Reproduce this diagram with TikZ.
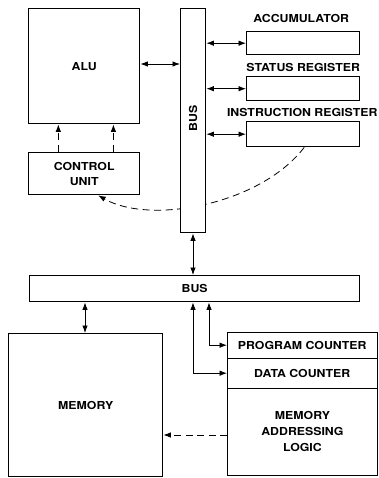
\documentclass[tikz,border=0pt]{standalone}
\usepackage{fontspec}
\setmainfont{TeX Gyre Heros}[FakeStretch=1.12]
\usetikzlibrary{arrows.meta,calc}

\begin{document}
\begin{tikzpicture}[x=1pt,y=-1pt,
  font=\bfseries\fontsize{11}{15}\selectfont,
  box/.style={draw,line width=1.4pt,anchor=north west,inner sep=0pt,align=center,fill=white},
  cell/.style={anchor=north west,inner sep=0pt,align=center},
  dbl/.style={line width=0.8pt,{Latex[length=7.5pt,width=5.5pt]}-{Latex[length=7.5pt,width=5.5pt]}},
  ctl/.style={line width=0.8pt,dash pattern=on 7pt off 4.5pt,-{Latex[length=7.5pt,width=5.5pt]}},
  caption/.style={anchor=base}
]
\useasboundingbox (0,0) rectangle (379,478);

% processor blocks
\node[box,minimum width=111pt,minimum height=115pt] (alu) at (28,8) {ALU};
\node[box,minimum width=111pt,minimum height=42pt] (cu) at (28,152) {CONTROL\\UNIT};

% registers with their captions
\node[box,minimum width=113pt,minimum height=23pt] (acc) at (246,31) {};
\node[box,minimum width=113pt,minimum height=24pt] (sr) at (246,76) {};
\node[box,minimum width=113pt,minimum height=25pt] (ir) at (246,121) {};
\node[caption] at ([xshift=-2pt,yshift=8pt]acc.north) {ACCUMULATOR};
\node[caption] at ([yshift=4pt]sr.north) {STATUS REGISTER};
\node[caption] at ([xshift=-1pt,yshift=4pt]ir.north) {INSTRUCTION REGISTER};

% instruction decode path, passing behind the internal bus
\draw[ctl] ([xshift=1pt]ir.south) .. controls (260,205) and (150,225) .. ([xshift=14pt]cu.south);

% internal bus
\node[box,minimum width=25pt,minimum height=224pt] (vbus) at (180,8) {};
\node[rotate=90] at ([yshift=2pt]vbus.center) {BUS};

% control lines
\draw[ctl] ($(cu.north west)!0.27!(cu.north east)$) -- ($(alu.south west)!0.27!(alu.south east)$);
\draw[ctl] ($(cu.north west)!0.76!(cu.north east)$) -- ($(alu.south west)!0.76!(alu.south east)$);

% internal bus connections
\draw[dbl] (alu.east |- 0,64) -- (vbus.west |- 0,64);
\draw[dbl] (vbus.east |- acc.west) -- (acc.west);
\draw[dbl] (vbus.east |- sr.west) -- (sr.west);
\draw[dbl] (vbus.east |- ir.west) -- (ir.west);

% external bus
\node[box,minimum width=330pt,minimum height=26pt] (hbus) at (29,275) {BUS};
\coordinate (xa) at (193,0);
\coordinate (xb) at (209,0);
\coordinate (xm) at (85,0);
\draw[dbl] (vbus.south -| xa) -- (hbus.north -| xa);

% memory and addressing logic
\node[box,minimum width=154pt,minimum height=143pt] (mem) at (8,333) {MEMORY};
\node[box,minimum width=150pt,minimum height=143pt] (mal) at (227,332) {};
\node[cell,minimum width=150pt,minimum height=26pt] (pc) at (227,332) {PROGRAM COUNTER};
\node[cell,minimum width=150pt,minimum height=30pt] (dc) at (227,358) {DATA COUNTER};
\draw[line width=0.7pt] (pc.south west) -- (pc.south east);
\draw[line width=0.7pt] (dc.south west) -- (dc.south east);
\node[align=center,font=\bfseries\fontsize{11}{16}\selectfont] at ($(dc.south)!0.49!(mal.south)$) {MEMORY\\ADDRESSING\\LOGIC};

\draw[dbl] (hbus.south -| xm) -- (mem.north -| xm);
\draw[dbl] (hbus.south -| xb) |- (pc.west);
\draw[dbl] (hbus.south -| xa) |- (dc.west);
\draw[ctl] (mal.west |- 0,435) -- (mem.east |- 0,435);
\end{tikzpicture}
\end{document}
